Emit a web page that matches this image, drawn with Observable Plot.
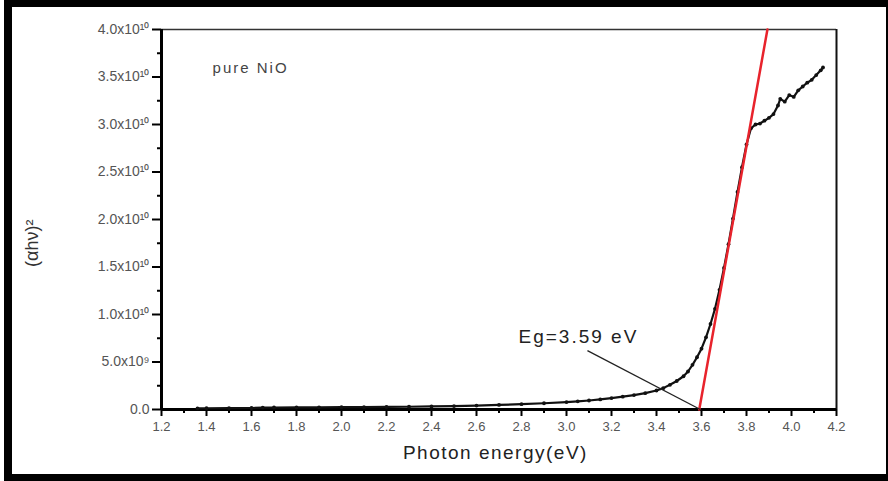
<!DOCTYPE html>
<html><head><meta charset="utf-8">
<script src="https://cdn.jsdelivr.net/npm/d3@7"></script>
<script src="https://cdn.jsdelivr.net/npm/@observablehq/plot@0.6"></script>
<style>
body{margin:0;background:#fff;}
#wrap{position:relative;width:888px;height:481px;overflow:hidden;background:#fff;}
#border{position:absolute;left:4px;top:0;width:884px;height:481px;box-sizing:border-box;border-left:8px solid #000;border-top:7px solid #000;border-bottom:7px solid #000;border-right:2px solid #000;pointer-events:none;}
</style></head>
<body>
<div id="wrap"><div id="border"></div></div>
<script>
// Photon energy (eV)
const energy = [1.36,1.40,1.50,1.60,1.65,1.70,1.80,1.90,2.00,2.10,2.20,2.30,2.40,2.50,2.60,2.70,2.80,2.90,3.00,3.05,3.10,3.15,3.20,3.25,3.30,3.35,3.40,3.43,3.46,3.49,3.52,3.54,3.56,3.58,3.60,3.62,3.64,3.66,3.68,3.70,3.72,3.74,3.76,3.78,3.80,3.82,3.84,3.86,3.88,3.90,3.92,3.94,3.95,3.97,3.99,4.01,4.03,4.05,4.07,4.09,4.11,4.13,4.14];
// (αhν)² in units of 1e10
const ahv2 = [0.012,0.013,0.014,0.016,0.020,0.021,0.022,0.023,0.024,0.025,0.027,0.029,0.032,0.036,0.041,0.048,0.056,0.066,0.078,0.086,0.095,0.106,0.120,0.135,0.152,0.172,0.200,0.225,0.260,0.300,0.350,0.400,0.470,0.550,0.640,0.760,0.900,1.060,1.260,1.490,1.740,2.010,2.290,2.550,2.790,2.960,3.000,3.010,3.040,3.070,3.110,3.200,3.270,3.240,3.310,3.290,3.360,3.400,3.440,3.470,3.520,3.570,3.600];
// Linear fit (Tauc extrapolation)
const fitE = [3.59, 3.893];
const fitV = [0, 4.0];
// Eg annotation arrow
const arrowFrom = [3.093, 0.62];
const arrowTo = [3.595, 0.0];
// Axis ticks
const xTicks = [1.2,1.4,1.6,1.8,2.0,2.2,2.4,2.6,2.8,3.0,3.2,3.4,3.6,3.8,4.0,4.2];
const xMinor = [1.3,1.5,1.7,1.9,2.1,2.3,2.5,2.7,2.9,3.1,3.3,3.5,3.7,3.9,4.1];
const yTicks = [0,0.5,1.0,1.5,2.0,2.5,3.0,3.5,4.0];
const yTickLabels = ["0.0","5.0x10\u2079","1.0x10\u00b9\u2070","1.5x10\u00b9\u2070","2.0x10\u00b9\u2070","2.5x10\u00b9\u2070","3.0x10\u00b9\u2070","3.5x10\u00b9\u2070","4.0x10\u00b9\u2070"];
const yMinor = [0.25,0.75,1.25,1.75,2.25,2.75,3.25,3.75];

const data = energy.map((e,i)=>({e, v: ahv2[i]}));
const fit = fitE.map((e,i)=>({e, v: fitV[i]}));

const font = '"Liberation Sans", Arial, sans-serif';
const chart = Plot.plot({
  width: 888, height: 481,
  marginLeft: 161, marginRight: 52, marginTop: 29, marginBottom: 72,
  x: {domain: [1.2, 4.2]},
  y: {domain: [0, 4]},
  style: {fontFamily: font, fontSize: "12px", background: "transparent"},
  marks: [
    Plot.ruleY([4], {stroke: "#333", strokeWidth: 1.5}),
    Plot.ruleX([4.2], {stroke: "#111", strokeWidth: 2}),
    Plot.axisX({ticks: xMinor, tickSize: 4, text: null, label: null, strokeWidth: 2, stroke: "#000"}),
    Plot.axisX({ticks: xTicks, tickSize: 7, tickPadding: 5, tickFormat: d => d.toFixed(1), fontSize: 13, fill: "#555", stroke: "#000", strokeWidth: 2, label: null}),
    Plot.axisY({ticks: yMinor, tickSize: 4, text: null, label: null, strokeWidth: 2, stroke: "#000"}),
    Plot.axisY({ticks: yTicks, tickSize: 9, tickPadding: 3, tickFormat: d => yTickLabels[yTicks.indexOf(d)], fontSize: 14, fill: "#555", stroke: "#000", strokeWidth: 2, label: null}),
    Plot.ruleX([1.2], {stroke: "#000", strokeWidth: 3}),
    Plot.ruleY([0], {stroke: "#000", strokeWidth: 3}),
    Plot.line(data, {x: "e", y: "v", stroke: "#111", strokeWidth: 2.2}),
    Plot.dot(data, {x: "e", y: "v", r: 1.9, fill: "#111"}),
    Plot.line(fit, {x: "e", y: "v", stroke: "#e8232c", strokeWidth: 2.5}),
    Plot.link([{x1: arrowFrom[0], y1: arrowFrom[1], x2: arrowTo[0], y2: arrowTo[1]}], {x1: "x1", y1: "y1", x2: "x2", y2: "y2", stroke: "#222", strokeWidth: 1.3}),
    Plot.text(["Eg=3.59 eV"], {x: 3.053, y: 0.76, fontSize: 19, fill: "#222"}),
    Plot.text(["pure NiO"], {x: 1.596, y: 3.59, fontSize: 15, fill: "#444"}),
    Plot.text(["Photon energy(eV)"], {x: 2.684, y: -0.453, fontSize: 19, fill: "#222"}),
    Plot.text(["(\u03b1h\u03bd)\u00b2"], {x: 0.627, y: 1.75, fontSize: 18, fill: "#333", rotate: -90})
  ]
});
const spacing = {"Eg=3.59 eV": "2px", "pure NiO": "2px", "Photon energy(eV)": "1.5px"};
chart.querySelectorAll("text").forEach(t => {
  const s = spacing[t.textContent];
  if (s) t.style.letterSpacing = s;
});
chart.style.position = "absolute";
chart.style.left = "0"; chart.style.top = "0";
document.getElementById("wrap").prepend(chart);
</script>
</body></html>
